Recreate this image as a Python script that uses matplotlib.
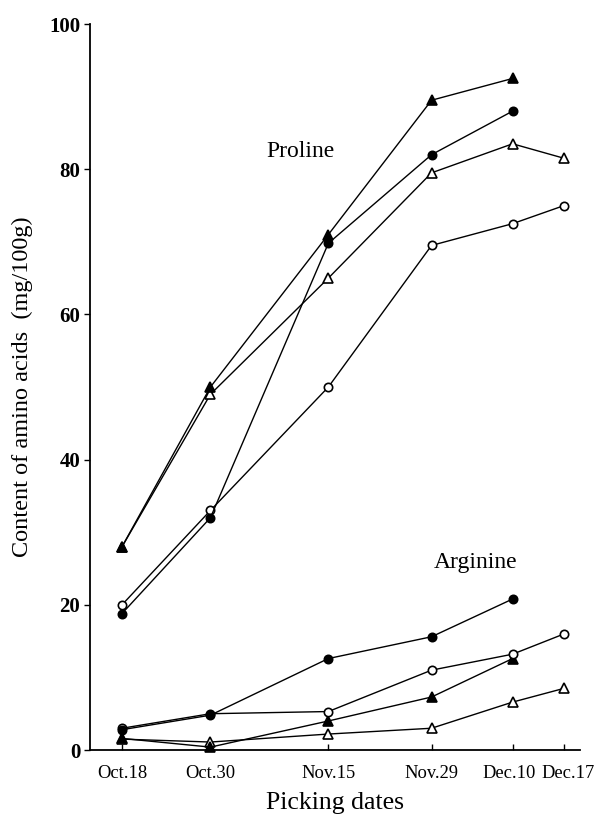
import numpy as np
import matplotlib
matplotlib.use('Agg')
import matplotlib.pyplot as plt
from matplotlib.transforms import ScaledTranslation

nan = np.nan

# picking dates, as days after Oct.18
days = [0, 12, 28, 42, 53, 60]
date_labels = ['Oct.18', 'Oct.30', 'Nov.15', 'Nov.29', 'Dec.10', 'Dec.17']

# proline (mg/100g)
pro_filled_tri = [28, 50, 71, 89.5, 92.5, nan]
pro_filled_circ = [18.8, 32, 69.8, 82, 88, nan]
pro_open_tri = [28, 49, 65, 79.5, 83.5, 81.5]
pro_open_circ = [20, 33, 50, 69.5, 72.5, 75]

# arginine (mg/100g)
arg_filled_circ = [2.8, 4.8, 12.6, 15.6, 20.8, nan]
arg_open_circ = [3.0, 5.0, 5.3, 11.0, 13.2, 16.0]
arg_filled_tri = [1.6, 0.4, 4.0, 7.3, 12.6, nan]
arg_open_tri = [1.5, 1.1, 2.2, 3.0, 6.6, 8.5]

yticks = [0, 20, 40, 60, 80, 100]

plt.rcParams['font.family'] = ['Liberation Serif', 'DejaVu Serif']

fig = plt.figure(figsize=(5.97, 8.14), dpi=100)
ax = fig.add_axes([0.1508, 0.0786, 0.8208, 0.8919])

styles = {
    'filled_circ': dict(marker='o', mfc='black', ms=6),
    'open_circ': dict(marker='o', mfc='white', ms=6),
    'filled_tri': dict(marker='^', mfc='black', ms=6.5),
    'open_tri': dict(marker='^', mfc='white', ms=6.5),
}

series = [
    (pro_open_circ, 'open_circ'),
    (pro_open_tri, 'open_tri'),
    (pro_filled_circ, 'filled_circ'),
    (pro_filled_tri, 'filled_tri'),
    (arg_open_tri, 'open_tri'),
    (arg_filled_tri, 'filled_tri'),
    (arg_open_circ, 'open_circ'),
    (arg_filled_circ, 'filled_circ'),
]
for vals, key in series:
    ax.plot(days, vals, color='black', lw=1.0, mec='black', mew=1.2,
            clip_on=False, zorder=3, **styles[key])

ax.set_xlim(-4.34, 62.15)
ax.set_ylim(0, 100)
ax.set_xticks(days)
ax.set_xticklabels(date_labels, fontsize=13.3)
ax.set_yticks(yticks)
ax.set_yticklabels([str(v) for v in yticks], fontsize=15, fontweight='bold')
ax.tick_params(axis='x', direction='in', length=4, width=1, pad=11)
ax.tick_params(axis='y', direction='out', length=4, width=1, pad=3)

# the last two date labels sit close together, nudge them apart a bit
xlabs = ax.get_xticklabels()
xlabs[4].set_transform(xlabs[4].get_transform() + ScaledTranslation(-4/100, 0, fig.dpi_scale_trans))
xlabs[5].set_transform(xlabs[5].get_transform() + ScaledTranslation(4/100, 0, fig.dpi_scale_trans))

ax.spines['top'].set_visible(False)
ax.spines['right'].set_visible(False)
ax.spines['left'].set_linewidth(1.3)
ax.spines['bottom'].set_linewidth(1.3)

ax.set_xlabel('Picking dates', fontsize=18.5, labelpad=7)
ax.set_ylabel('Content of amino acids  (mg/100g)', fontsize=17.5)
ax.yaxis.set_label_coords(-0.116, 0.5)

ax.text(0.43, 0.825, 'Proline', transform=ax.transAxes, fontsize=17,
        ha='center', va='center')
ax.text(0.787, 0.258, 'Arginine', transform=ax.transAxes, fontsize=17,
        ha='center', va='center')

plt.savefig('out.png', dpi=100)
